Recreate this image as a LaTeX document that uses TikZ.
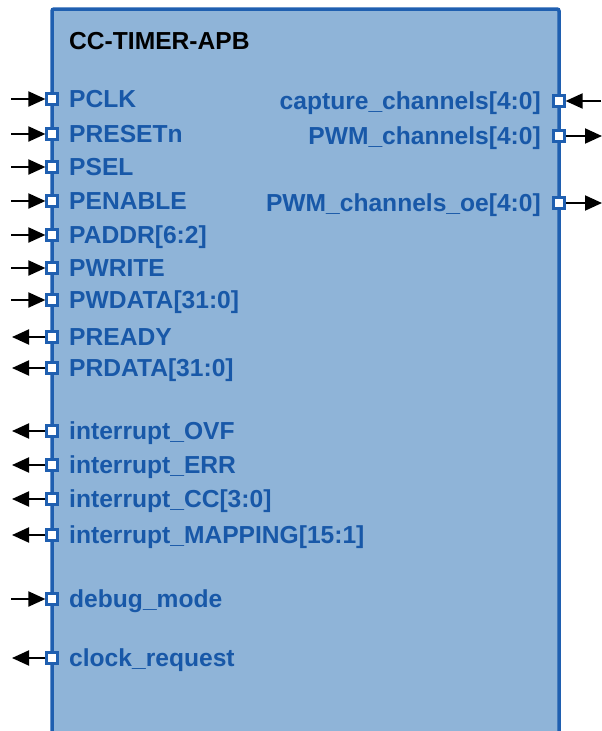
\documentclass[tikz,border=0pt]{standalone}
\usepackage{fontspec}
\setmainfont{Liberation Sans}
\usetikzlibrary{arrows.meta}
\definecolor{boxfill}{HTML}{8FB4D8}
\definecolor{boxline}{HTML}{1F5FB0}
\definecolor{txt}{HTML}{1858A8}
\begin{document}
\begin{tikzpicture}[x=1pt,y=-1pt,
  port/.style={draw=boxline, fill=white, line width=2.2pt, minimum size=11pt, inner sep=0pt},
  lbl/.style={text=txt, font=\fontsize{24.6}{28}\selectfont\bfseries, inner sep=0pt},
  sig/.style={line width=2pt, -{Triangle[length=17pt,width=15pt]}}]
\useasboundingbox (0,0) rectangle (602,731);
\begin{scope}
\clip (0,0) rectangle (602,731);
\draw[draw=boxline, fill=boxfill, line width=3.5pt, rounded corners=2pt] (52,9) rectangle (559,760);
\end{scope}
\node[font=\fontsize{24.6}{28}\selectfont\bfseries, inner sep=0pt, anchor=base west] (title) at (69,49) {CC-TIMER-APB};
% left inputs
\foreach \n/\y/\t in {a/99/PCLK, b/134/PRESETn, c/167/PSEL, d/201/PENABLE, e/235/{PADDR[6:2]}, f/268/PWRITE, g/300/{PWDATA[31:0]}, h/599/debug\_mode} {
  \node[port] (p\n) at (52,\y) {};
  \node[lbl, anchor=base west] (t\n) at (69,{\y+8.7}) {\t};
  \coordinate (e\n) at (11,\y);
  \draw[sig] (e\n) -- (p\n.west);
}
% left outputs
\foreach \n/\y/\t in {i/337/PREADY, j/368/{PRDATA[31:0]}, k/431/interrupt\_OVF, l/465/interrupt\_ERR, m/499/{interrupt\_CC[3:0]}, n/535/{interrupt\_MAPPING[15:1]}, o/658/clock\_request} {
  \node[port] (p\n) at (52,\y) {};
  \node[lbl, anchor=base west] (t\n) at (69,{\y+8.7}) {\t};
  \coordinate (e\n) at (12,\y);
  \draw[sig] (p\n.west) -- (e\n);
}
% right input
\node[port] (pr1) at (559,101) {};
\node[lbl, anchor=base east] (tr1) at (541,{101+8.7}) {capture\_channels[4:0]};
\coordinate (er1) at (601,101);
\draw[sig] (er1) -- (pr1.east);
% right outputs
\foreach \n/\y/\t in {2/136/{PWM\_channels[4:0]}, 3/203/{PWM\_channels\_oe[4:0]}} {
  \node[port] (pr\n) at (559,\y) {};
  \node[lbl, anchor=base east] (tr\n) at (541,{\y+8.7}) {\t};
  \coordinate (er\n) at (602,\y);
  \draw[sig] (pr\n.east) -- (er\n);
}
\end{tikzpicture}
\end{document}
